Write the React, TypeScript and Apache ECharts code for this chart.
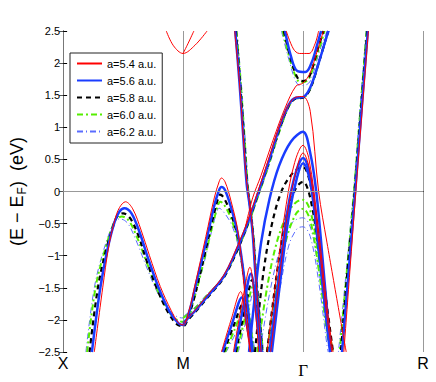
import React, { useEffect, useRef } from "react";
import * as echarts from "echarts";

type Pt = [number, number];

const kLabels = ["X", "M", "Γ", "R"];
const legendNames = ["a=5.4 a.u.", "a=5.6 a.u.", "a=5.8 a.u.", "a=6.0 a.u.", "a=6.2 a.u."];

const bands54: Pt[][] = [
  [[0.26,-2.5],[0.33,-1.5],[0.38,-0.86],[0.43,-0.45],[0.47,-0.25],[0.52,-0.16],[0.58,-0.27],[0.65,-0.6],[0.72,-1.0],[0.81,-1.48],[0.9,-1.85],[0.96,-2.04],[1.0,-2.08],[1.05,-1.85],[1.1,-1.45],[1.19,-0.7],[1.26,-0.1],[1.3,0.15],[1.32,0.21],[1.35,0.15],[1.4,-0.15],[1.46,-0.65],[1.51,-1.5],[1.56,-2.5]],
  [[1.0,-2.05],[1.1,-1.85],[1.2,-1.62],[1.34,-1.3],[1.46,-0.82],[1.54,-0.45],[1.62,-0.02],[1.72,0.55],[1.8,1.0],[1.88,1.35],[1.94,1.47],[2.0,1.48],[2.06,1.25],[2.13,0.0],[2.2,-0.8],[2.36,-2.5]],
  [[1.52,-0.55],[1.58,-0.1],[1.65,0.25],[1.75,0.8],[1.85,1.3],[1.94,1.64],[2.0,1.69],[2.06,1.85],[2.12,2.2],[2.17,2.5]],
  [[1.43,2.5],[1.47,1.7],[1.5,0.9],[1.53,0.15],[1.555,-0.18],[1.58,-0.6],[1.6,-1.15],[1.65,-2.5]],
  [[1.32,-2.5],[1.4,-2.0],[1.48,-1.56],[1.52,-2.0],[1.56,-2.5]],
  [[1.42,-2.5],[1.5,-1.65],[1.557,-1.18],[1.6,-1.8],[1.63,-2.5]],
  [[1.86,2.5],[1.92,2.22],[1.97,2.15],[2.05,2.15],[2.1,2.3],[2.13,2.5]],
  [[1.7,-2.5],[1.78,-1.3],[1.86,-0.2],[1.93,0.45],[2.0,0.72],[2.05,0.5],[2.12,-0.45],[2.2,-1.8],[2.25,-2.5]],
  [[1.73,-2.5],[1.8,-1.4],[1.87,-0.35],[1.94,0.3],[2.0,0.6],[2.05,0.38],[2.12,-0.6],[2.19,-1.8],[2.24,-2.5]],
  [[0.86,2.5],[0.92,2.27],[1.0,2.15],[1.1,2.28],[1.2,2.5]],
  [[1.0,2.15],[1.04,2.3],[1.09,2.5]],
  [[2.545,2.5],[2.49,1.2],[2.44,0.0],[2.39,-1.25],[2.34,-2.5]],
];

const bands56: Pt[][] = [
  [[0.24,-2.5],[0.31,-1.5],[0.37,-0.9],[0.43,-0.47],[0.47,-0.31],[0.51,-0.26],[0.57,-0.34],[0.64,-0.65],[0.71,-1.05],[0.8,-1.52],[0.89,-1.88],[0.96,-2.05],[1.0,-2.08],[1.05,-1.88],[1.1,-1.5],[1.19,-0.8],[1.26,-0.22],[1.3,0.02],[1.32,0.07],[1.35,0.02],[1.4,-0.25],[1.46,-0.7],[1.52,-1.5],[1.58,-2.5]],
  [[1.0,-2.05],[1.1,-1.86],[1.2,-1.64],[1.34,-1.32],[1.46,-0.85],[1.54,-0.48],[1.62,-0.05],[1.72,0.5],[1.8,0.98],[1.88,1.35],[1.94,1.46],[2.0,1.47],[2.06,1.62],[2.13,2.0],[2.21,2.5]],
  [[1.435,2.5],[1.47,1.7],[1.5,0.9],[1.53,0.12],[1.555,-0.22],[1.58,-0.65],[1.6,-1.2],[1.655,-2.5]],
  [[1.33,-2.5],[1.41,-2.05],[1.49,-1.65],[1.53,-2.05],[1.57,-2.5]],
  [[1.43,-2.5],[1.51,-1.72],[1.565,-1.28],[1.61,-1.9],[1.64,-2.5]],
  [[1.85,2.5],[1.9,2.1],[1.95,1.88],[2.02,1.86],[2.07,2.0],[2.12,2.3],[2.15,2.5]],
  [[1.55,-2.5],[1.6,-1.6],[1.65,-0.8],[1.72,-0.12],[1.8,0.4],[1.9,0.78],[2.0,0.93],[2.06,0.6],[2.11,0.0],[2.17,-1.2],[2.23,-2.5]],
  [[1.72,-2.5],[1.8,-1.3],[1.87,-0.3],[1.94,0.3],[2.0,0.52],[2.06,0.25],[2.13,-0.8],[2.2,-2.0],[2.23,-2.5]],
  [[1.74,-2.5],[1.81,-1.4],[1.88,-0.4],[1.95,0.22],[2.0,0.44],[2.06,0.15],[2.13,-0.9],[2.2,-2.1],[2.225,-2.5]],
  [[2.54,2.5],[2.485,1.2],[2.435,0.0],[2.38,-1.25],[2.325,-2.5]],
];

const bands58: Pt[][] = [
  [[0.22,-2.5],[0.29,-1.5],[0.36,-0.9],[0.43,-0.47],[0.46,-0.37],[0.5,-0.34],[0.56,-0.42],[0.63,-0.7],[0.7,-1.1],[0.79,-1.55],[0.88,-1.9],[0.95,-2.07],[1.0,-2.1],[1.05,-1.92],[1.1,-1.6],[1.19,-0.9],[1.26,-0.33],[1.29,-0.12],[1.31,-0.05],[1.34,-0.1],[1.4,-0.35],[1.46,-0.75],[1.52,-1.55],[1.58,-2.5]],
  [[1.0,-2.08],[1.1,-1.88],[1.2,-1.66],[1.34,-1.34],[1.46,-0.88],[1.54,-0.5],[1.62,-0.07],[1.72,0.48],[1.8,0.95],[1.88,1.33],[1.94,1.45],[2.0,1.46],[2.06,1.6],[2.13,2.0],[2.21,2.5]],
  [[1.44,2.5],[1.475,1.7],[1.505,0.9],[1.535,0.1],[1.56,-0.25],[1.585,-0.7],[1.605,-1.25],[1.66,-2.5]],
  [[1.34,-2.5],[1.42,-2.1],[1.5,-1.75],[1.54,-2.1],[1.58,-2.5]],
  [[1.44,-2.5],[1.52,-1.8],[1.575,-1.38],[1.62,-1.95],[1.65,-2.5]],
  [[1.84,2.5],[1.9,2.05],[1.96,1.75],[2.0,1.72],[2.05,1.78],[2.12,2.2],[2.17,2.5]],
  [[1.6,-2.5],[1.66,-1.4],[1.73,-0.6],[1.82,0.0],[1.92,0.3],[2.0,0.38],[2.05,0.2],[2.11,-0.4],[2.18,-1.5],[2.25,-2.5]],
  [[1.7,-2.5],[1.78,-1.3],[1.86,-0.4],[1.94,0.05],[2.0,0.15],[2.06,-0.1],[2.13,-0.9],[2.2,-2.0],[2.24,-2.5]],
  [[2.535,2.5],[2.48,1.2],[2.43,0.0],[2.37,-1.25],[2.315,-2.5]],
];

const bands60: Pt[][] = [
  [[0.2,-2.5],[0.27,-1.5],[0.35,-0.9],[0.43,-0.46],[0.46,-0.41],[0.49,-0.39],[0.55,-0.46],[0.62,-0.73],[0.7,-1.12],[0.79,-1.55],[0.88,-1.87],[0.95,-2.0],[1.0,-2.03],[1.05,-1.88],[1.1,-1.62],[1.19,-0.95],[1.26,-0.42],[1.29,-0.22],[1.31,-0.16],[1.34,-0.2],[1.4,-0.42],[1.46,-0.8],[1.53,-1.6],[1.59,-2.5]],
  [[1.0,-1.97],[1.1,-1.82],[1.2,-1.62],[1.34,-1.32],[1.46,-0.88],[1.54,-0.52],[1.62,-0.1],[1.72,0.45],[1.8,0.92],[1.88,1.32],[1.94,1.45],[2.0,1.46],[2.06,1.6],[2.13,2.0],[2.21,2.5]],
  [[1.445,2.5],[1.48,1.7],[1.51,0.9],[1.54,0.08],[1.565,-0.3],[1.59,-0.75],[1.61,-1.3],[1.665,-2.5]],
  [[1.35,-2.5],[1.43,-2.15],[1.51,-1.8],[1.55,-2.15],[1.59,-2.5]],
  [[1.45,-2.5],[1.53,-1.85],[1.585,-1.45],[1.63,-2.0],[1.66,-2.5]],
  [[1.83,2.5],[1.9,2.0],[1.96,1.72],[2.0,1.7],[2.05,1.76],[2.13,2.2],[2.18,2.5]],
  [[1.62,-2.5],[1.7,-1.5],[1.78,-0.8],[1.87,-0.35],[1.94,-0.17],[2.0,-0.13],[2.06,-0.3],[2.12,-0.9],[2.2,-2.0],[2.25,-2.5]],
  [[1.7,-2.5],[1.78,-1.5],[1.86,-0.75],[1.94,-0.35],[2.0,-0.27],[2.06,-0.45],[2.13,-1.2],[2.2,-2.2],[2.23,-2.5]],
  [[2.53,2.5],[2.475,1.2],[2.425,0.0],[2.365,-1.25],[2.305,-2.5]],
];

const bands62: Pt[][] = [
  [[0.19,-2.5],[0.26,-1.5],[0.34,-0.9],[0.43,-0.45],[0.46,-0.43],[0.48,-0.43],[0.54,-0.5],[0.61,-0.77],[0.69,-1.15],[0.78,-1.55],[0.87,-1.83],[0.95,-1.95],[1.0,-1.97],[1.05,-1.85],[1.1,-1.62],[1.19,-1.0],[1.25,-0.52],[1.28,-0.32],[1.3,-0.26],[1.33,-0.3],[1.4,-0.5],[1.46,-0.85],[1.53,-1.65],[1.6,-2.5]],
  [[1.0,-1.95],[1.1,-1.8],[1.2,-1.6],[1.34,-1.32],[1.46,-0.9],[1.54,-0.55],[1.62,-0.12],[1.72,0.42],[1.8,0.9],[1.88,1.3],[1.94,1.44],[2.0,1.45],[2.06,1.6],[2.13,2.0],[2.22,2.5]],
  [[1.45,2.5],[1.485,1.7],[1.515,0.9],[1.545,0.05],[1.57,-0.35],[1.595,-0.8],[1.615,-1.35],[1.67,-2.5]],
  [[1.36,-2.5],[1.44,-2.2],[1.52,-1.85],[1.56,-2.2],[1.6,-2.5]],
  [[1.46,-2.5],[1.54,-1.9],[1.595,-1.52],[1.64,-2.05],[1.67,-2.5]],
  [[1.82,2.5],[1.89,2.0],[1.95,1.68],[2.0,1.65],[2.06,1.72],[2.14,2.2],[2.2,2.5]],
  [[1.64,-2.5],[1.72,-1.6],[1.8,-0.95],[1.88,-0.55],[1.95,-0.43],[2.0,-0.41],[2.06,-0.55],[2.12,-1.1],[2.2,-2.1],[2.24,-2.5]],
  [[1.72,-2.5],[1.8,-1.6],[1.88,-0.85],[1.95,-0.58],[2.0,-0.55],[2.06,-0.7],[2.13,-1.4],[2.2,-2.4],[2.21,-2.5]],
  [[2.525,2.5],[2.47,1.2],[2.42,0.0],[2.36,-1.25],[2.295,-2.5]],
];

const styles = [
  { bands: bands54, color: "#ff0000", width: 1, type: "solid" as any },
  { bands: bands56, color: "#1a3cff", width: 2.5, type: "solid" as any },
  { bands: bands58, color: "#000000", width: 2.2, type: [5, 4] as any },
  { bands: bands60, color: "#55ee00", width: 2, type: [6, 3, 2, 3] as any },
  { bands: bands62, color: "#5a6cff", width: 1, type: [6, 3, 1, 3] as any },
];

export default function App() {
  const ref = useRef<HTMLDivElement>(null);
  useEffect(() => {
    if (!ref.current) return;
    const chart = echarts.init(ref.current, undefined, { renderer: "svg" });
    const font = "Liberation Sans, Arial, sans-serif";
    const series: any[] = [
      {
        type: "line",
        data: [],
        z: 1,
        markLine: {
          silent: true,
          symbol: "none",
          label: { show: false },
          lineStyle: { color: "#999", type: "solid", width: 1 },
          data: [{ yAxis: 0 }],
        },
      },
    ];
    styles.forEach((s, i) => {
      s.bands.forEach((b) => {
        series.push({
          type: "line",
          name: legendNames[i],
          data: b,
          symbol: "none",
          showSymbol: false,
          smooth: 0.35,
          clip: true,
          z: 2 + (4 - i) * 0.1,
          lineStyle: { color: s.color, width: s.width, type: s.type },
          itemStyle: { color: s.color },
        });
      });
    });
    chart.setOption({
      animation: false,
      backgroundColor: "#fff",
      textStyle: { fontFamily: font },
      grid: { left: 56, right: 13, top: 31, bottom: 30 },
      legend: {
        data: legendNames,
        orient: "vertical",
        left: 70,
        top: 53,
        padding: [5, 6, 6, 6],
        itemWidth: 25,
        itemHeight: 12,
        itemGap: 6,
        backgroundColor: "#fff",
        borderColor: "#222",
        borderWidth: 1,
        itemStyle: { opacity: 0, borderWidth: 0 },
        textStyle: { fontSize: 11, color: "#000", fontFamily: font },
      },
      xAxis: [
        {
          type: "value",
          min: 0,
          max: 3,
          interval: 1,
          axisLine: { show: true, lineStyle: { color: "#000" } },
          axisTick: { show: false },
          splitLine: { show: true, lineStyle: { color: "#999", width: 1 } },
          axisLabel: {
            margin: 3,
            fontSize: 16,
            color: "#000",
            fontFamily: font,
            alignMinLabel: "center",
            alignMaxLabel: "center",
            formatter: (v: number) => {
              const l = kLabels[Math.round(v)] || "";
              return l === "Γ" ? "{g|Γ}" : l;
            },
            rich: {
              g: { fontFamily: "Liberation Serif, DejaVu Serif, serif", fontSize: 17, padding: [7, 0, 0, 0], color: "#000" },
            },
          },
        },
        {
          type: "value",
          position: "top",
          min: 0,
          max: 3,
          axisLine: { show: true, lineStyle: { color: "#333" } },
          axisTick: { show: false },
          axisLabel: { show: false },
          splitLine: { show: false },
        },
      ],
      yAxis: [
        {
          type: "value",
          min: -2.5,
          max: 2.5,
          interval: 0.5,
          name: "{a|(E \u2212 E}{s|F}{a|)  (eV)}",
          nameLocation: "middle",
          nameGap: 20,
          nameRotate: 90,
          nameTextStyle: {
            rich: {
              a: { fontSize: 18, color: "#000", fontFamily: font },
              s: { fontSize: 12, color: "#000", fontFamily: font, padding: [9, 0, 0, 1] },
            },
          },
          axisLine: { show: true, lineStyle: { color: "#000" } },
          axisTick: { show: true, inside: true, length: 4, lineStyle: { color: "#000" } },
          splitLine: { show: false },
          axisLabel: {
            margin: 3,
            fontSize: 11,
            color: "#000",
            fontFamily: font,
            formatter: (v: number) => String(v).replace("-", "\u2212"),
          },
        },
        {
          type: "value",
          position: "right",
          min: -2.5,
          max: 2.5,
          interval: 0.5,
          axisLine: { show: true, lineStyle: { color: "#777" } },
          axisTick: { show: true, inside: true, length: 4, lineStyle: { color: "#555" } },
          axisLabel: { show: false },
          splitLine: { show: false },
        },
      ],
      series,
    });
    return () => chart.dispose();
  }, []);
  return <div ref={ref} style={{ width: 436, height: 382, position: "absolute", left: 0, top: 0 }} />;
}
